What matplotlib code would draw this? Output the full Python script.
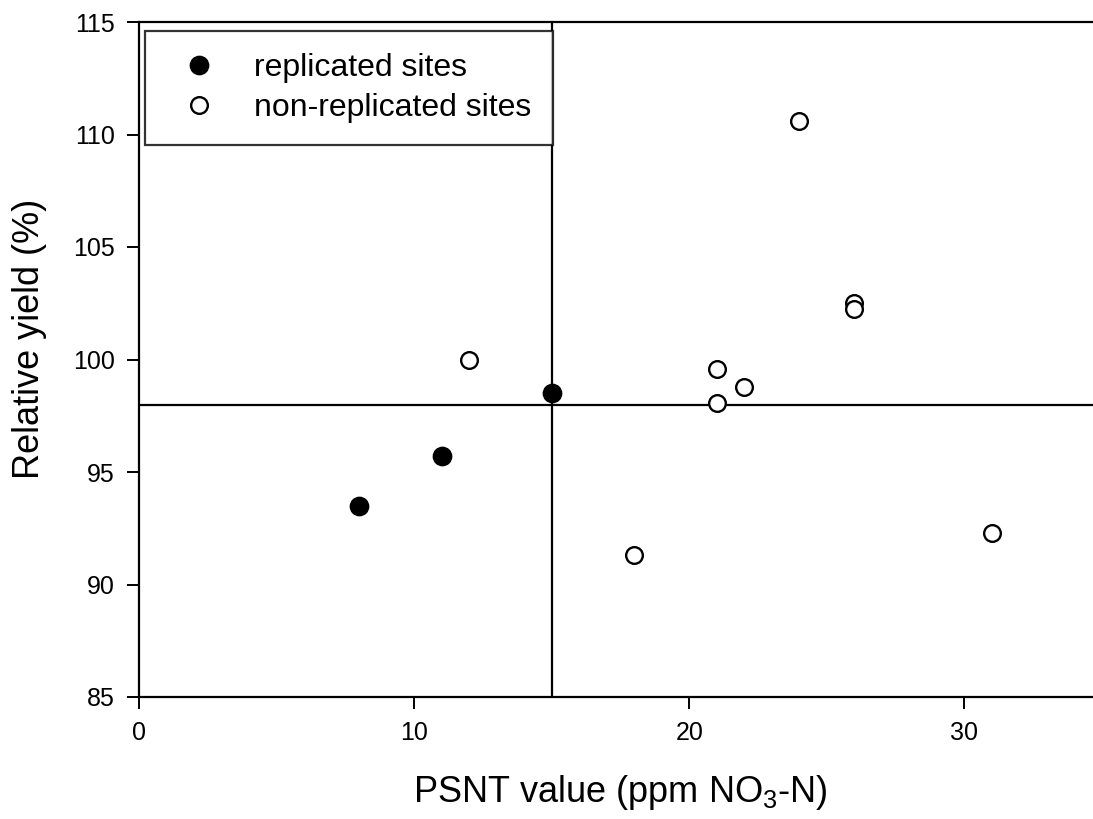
import matplotlib
matplotlib.use("Agg")
import matplotlib.pyplot as plt

plt.rcParams['font.family'] = ['Liberation Sans', 'DejaVu Sans']

# Data
rep_x = [8, 11, 15]
rep_y = [93.5, 95.7, 98.5]
nonrep_x = [12, 18, 21, 21, 22, 24, 26, 26, 31]
nonrep_y = [100.0, 91.3, 99.6, 98.05, 98.8, 110.6, 102.5, 102.25, 92.3]

x_ticks = [0, 10, 20, 30]
y_ticks = [85, 90, 95, 100, 105, 110, 115]
psnt_threshold = 15
ry_threshold = 98

fig = plt.figure(figsize=(10.93, 8.19), dpi=100)
ax = fig.add_axes([139.3 / 1093, 122 / 819, 962.5 / 1093, 675 / 819])

ax.set_xlim(0, 35)
ax.set_ylim(85, 115)

ax.axvline(psnt_threshold, color='black', lw=1.6, zorder=1)
ax.axhline(ry_threshold, color='black', lw=1.6, zorder=1)

ax.plot(rep_x, rep_y, 'o', ms=13, mfc='black', mec='black', mew=1.2,
        ls='none', label='replicated sites', zorder=3, clip_on=False)
ax.plot(nonrep_x, nonrep_y, 'o', ms=12, mfc='white', mec='black', mew=1.7,
        ls='none', label='non-replicated sites', zorder=3, clip_on=False)

ax.set_xticks(x_ticks)
ax.set_yticks(y_ticks)
ax.tick_params(direction='out', length=8.5, width=1.4, labelsize=18, pad=9)
for s in ax.spines.values():
    s.set_linewidth(1.6)
ax.spines['right'].set_visible(False)

ax.set_xlabel(r'PSNT value (ppm NO$_\mathregular{3}$-N)', fontsize=26)
ax.set_ylabel('Relative yield (%)', fontsize=26)
ax.xaxis.set_label_coords(0.5, -0.112)
ax.yaxis.set_label_coords(-0.096, 0.53)

leg = ax.legend(loc='upper left', bbox_to_anchor=(0.006, 0.987),
                borderaxespad=0, fontsize=23, handlelength=2.0,
                handletextpad=0.72, borderpad=0.69, labelspacing=0.32,
                fancybox=False, frameon=True, markerscale=1.0)
leg.get_frame().set_edgecolor('black')
leg.get_frame().set_linewidth(1.6)

fig.savefig('out.png', dpi=100)
